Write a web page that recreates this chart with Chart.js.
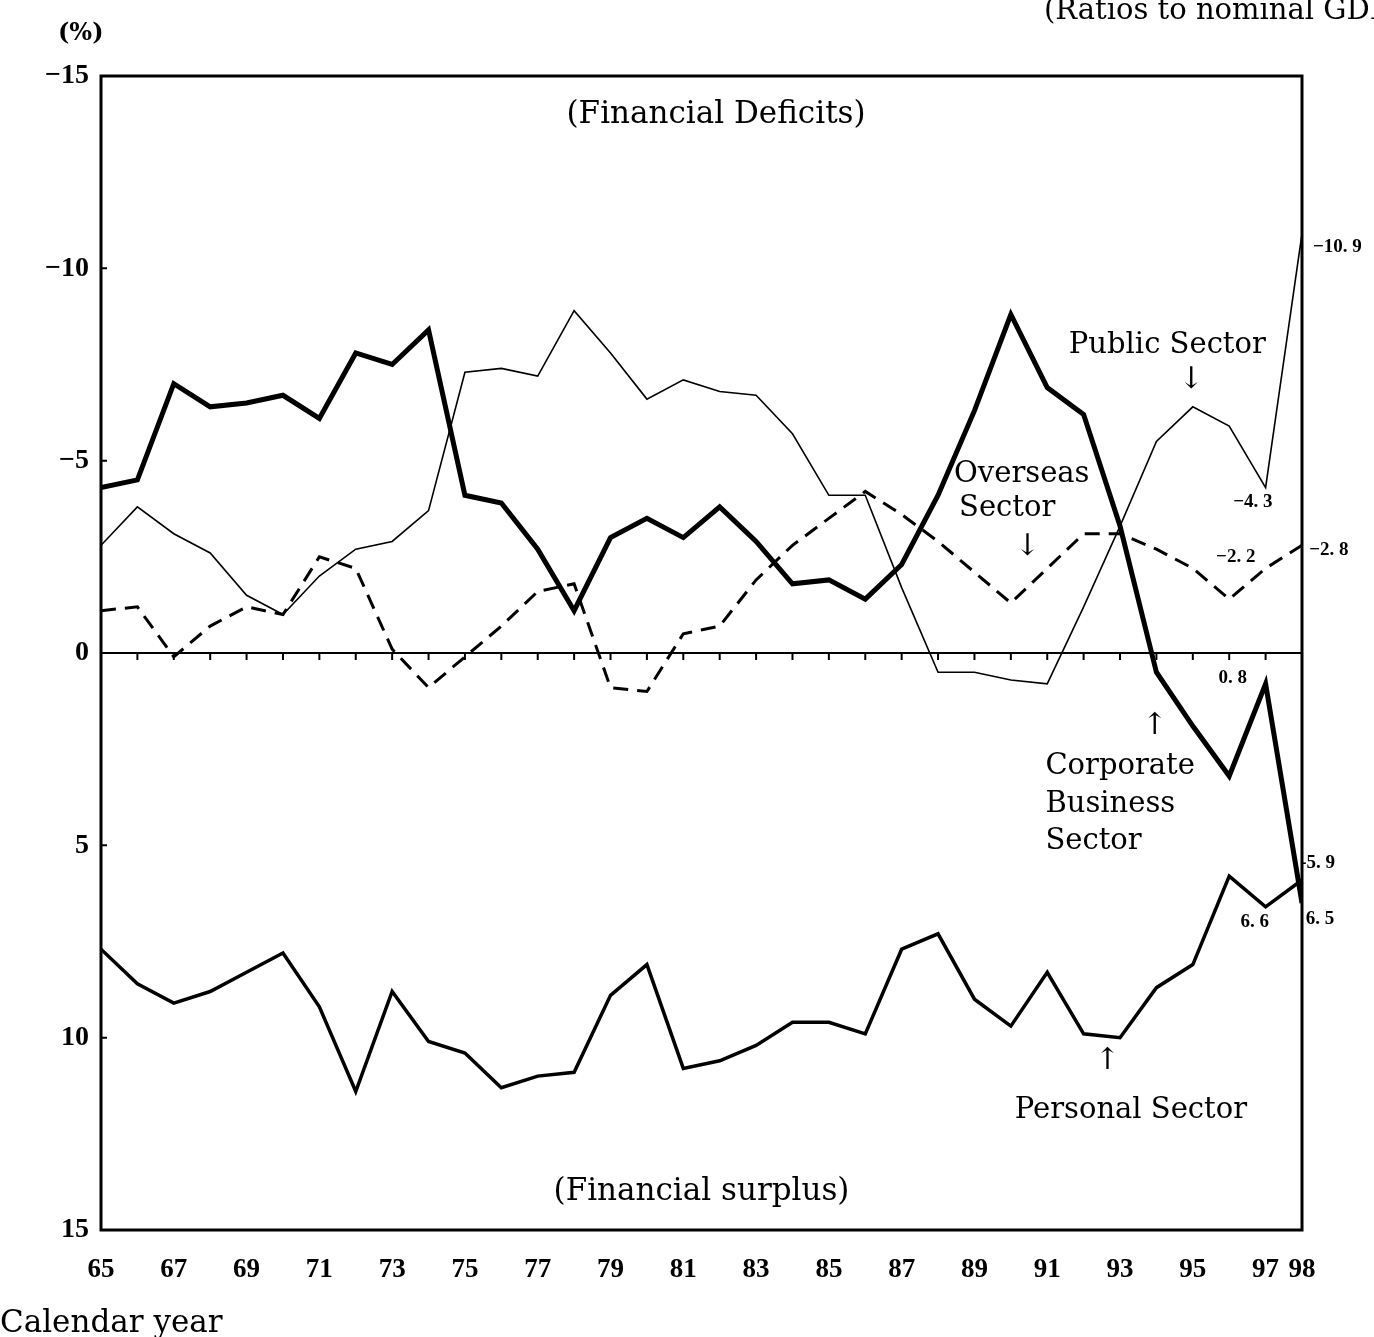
<!DOCTYPE html>
<html>
<head>
<meta charset="utf-8">
<script src="https://cdn.jsdelivr.net/npm/chart.js@4/dist/chart.umd.min.js"></script>
<style>
  html, body { margin: 0; padding: 0; background: #fff; }
  #wrap { width: 1374px; height: 1337px; position: relative; }
</style>
</head>
<body>
<div id="wrap"><canvas id="sectorChart" width="1374" height="1337"></canvas></div>
<script>
// calendar years (19xx)
const years = [65, 66, 67, 68, 69, 70, 71, 72, 73, 74, 75, 76, 77, 78, 79, 80, 81,
  82, 83, 84, 85, 86, 87, 88, 89, 90, 91, 92, 93, 94, 95, 96, 97, 98];
const yearTicks = [65, 67, 69, 71, 73, 75, 77, 79, 81, 83, 85, 87, 89, 91, 93, 95, 97, 98];
const valueTicks = [-15, -10, -5, 0, 5, 10, 15];

// ratios to nominal GDP, % (negative = financial deficit)
const corporate = [-4.3, -4.5, -7.0, -6.4, -6.5, -6.7, -6.1, -7.8, -7.5, -8.4,
  -4.1, -3.9, -2.7, -1.1, -3.0, -3.5, -3.0, -3.8, -2.9, -1.8,
  -1.9, -1.4, -2.3, -4.1, -6.3, -8.8, -6.9, -6.2, -3.3, 0.5,
  1.9, 3.2, 0.8, 6.5];
const publicSector = [-2.8, -3.8, -3.1, -2.6, -1.5, -1.0, -2.0, -2.7, -2.9, -3.7,
  -7.3, -7.4, -7.2, -8.9, -7.8, -6.6, -7.1, -6.8, -6.7, -5.7,
  -4.1, -4.1, -1.7, 0.5, 0.5, 0.7, 0.8, -1.2, -3.3, -5.5,
  -6.4, -5.9, -4.3, -10.9];
const overseas = [-1.1, -1.2, 0.1, -0.7, -1.2, -1.0, -2.5, -2.2, -0.1, 0.9,
  0.1, -0.7, -1.6, -1.8, 0.9, 1.0, -0.5, -0.7, -1.9, -2.8,
  -3.5, -4.2, -3.6, -2.9, -2.1, -1.3, -2.2, -3.1, -3.1, -2.7,
  -2.2, -1.4, -2.2, -2.8];
const personal = [7.7, 8.6, 9.1, 8.8, 8.3, 7.8, 9.2, 11.4, 8.8, 10.1,
  10.4, 11.3, 11.0, 10.9, 8.9, 8.1, 10.8, 10.6, 10.2, 9.6,
  9.6, 9.9, 7.7, 7.3, 9.0, 9.7, 8.3, 9.9, 10.0, 8.7,
  8.1, 5.8, 6.6, 5.9];

// text placed in data coordinates: [text, year, value, align, font]
const SERIF = '"DejaVu Serif", serif';
const BOLD_NUM = 'bold 19px "Liberation Serif", serif';
const LABEL = '29px ' + SERIF;
const ARROW = '30px ' + SERIF;
const notes = [
  ['(Financial Deficits)', 81.9, -14.0, 'center', '31px ' + SERIF],
  ['(Financial surplus)', 81.5, 14.0, 'center', '31px ' + SERIF],
  ['Public Sector', 94.3, -8.0, 'center', LABEL],
  ['↓', 94.95, -7.1, 'center', ARROW],
  ['Overseas', 90.3, -4.65, 'center', LABEL],
  ['Sector', 89.9, -3.75, 'center', LABEL],
  ['↓', 90.45, -2.75, 'center', ARROW],
  ['↑', 93.95, 1.9, 'center', ARROW],
  ['Corporate', 90.95, 2.95, 'left', LABEL],
  ['Business', 90.95, 3.93, 'left', LABEL],
  ['Sector', 90.95, 4.91, 'left', LABEL],
  ['↑', 92.65, 10.6, 'center', ARROW],
  ['Personal Sector', 93.3, 11.9, 'center', LABEL],
  ['−10. 9', 98.3, -10.55, 'left', BOLD_NUM],
  ['−4. 3', 96.65, -3.93, 'center', BOLD_NUM],
  ['−2. 2', 96.18, -2.5, 'center', BOLD_NUM],
  ['−2. 8', 98.2, -2.68, 'left', BOLD_NUM],
  ['0. 8', 96.1, 0.64, 'center', BOLD_NUM],
  ['-5. 9', 97.95, 5.47, 'left', BOLD_NUM],
  ['6. 6', 96.7, 7.0, 'center', BOLD_NUM],
  ['6. 5', 98.1, 6.93, 'left', BOLD_NUM],
];

const toPoints = (vals) => years.map((yr, i) => ({ x: yr, y: vals[i] }));

// frame, small tick marks and text
const decorations = {
  id: 'decorations',
  afterDatasetsDraw(chart) {
    const { ctx, chartArea: a, scales: { x, y } } = chart;
    ctx.save();
    ctx.strokeStyle = '#000';
    ctx.lineWidth = 3;
    ctx.strokeRect(a.left, a.top, a.right - a.left, a.bottom - a.top);

    // ticks hanging from the zero line
    const y0 = y.getPixelForValue(0);
    ctx.lineWidth = 2;
    ctx.beginPath();
    years.slice(1, -1).forEach((yr) => {
      const px = x.getPixelForValue(yr);
      ctx.moveTo(px, y0);
      ctx.lineTo(px, y0 + 7);
    });
    // inward ticks on the value axis
    valueTicks.slice(1, -1).forEach((v) => {
      const py = y.getPixelForValue(v);
      ctx.moveTo(a.left, py);
      ctx.lineTo(a.left + 6, py);
    });
    ctx.stroke();

    ctx.fillStyle = '#000';
    ctx.textBaseline = 'middle';
    notes.forEach(([text, yr, v, align, font]) => {
      ctx.font = font;
      ctx.textAlign = align;
      ctx.fillText(text, x.getPixelForValue(yr), y.getPixelForValue(v));
    });

    // page texts outside the plot
    ctx.textAlign = 'left';
    ctx.textBaseline = 'alphabetic';
    ctx.font = 'bold 24px ' + SERIF;
    ctx.fillText('(%)', 58, 40);
    ctx.font = '29px ' + SERIF;
    ctx.fillText('(Ratios to nominal GDP)', 1044, 19);
    ctx.font = '31px ' + SERIF;
    ctx.fillText('Calendar year', 0, 1332);
    ctx.restore();
  },
};

const myChart = new Chart('sectorChart', {
  type: 'line',
  data: {
    datasets: [
      { label: 'Corporate Business Sector', data: toPoints(corporate), borderColor: '#000', borderWidth: 5 },
      { label: 'Public Sector', data: toPoints(publicSector), borderColor: '#000', borderWidth: 1.6 },
      { label: 'Overseas Sector', data: toPoints(overseas), borderColor: '#000', borderWidth: 3, borderDash: [15, 9] },
      { label: 'Personal Sector', data: toPoints(personal), borderColor: '#000', borderWidth: 3.5 },
    ],
  },
  options: {
    responsive: false,
    animation: false,
    elements: { point: { radius: 0 }, line: { tension: 0, borderJoinStyle: 'miter' } },
    layout: { padding: { top: 76, right: 72, left: 0, bottom: 0 } },
    plugins: { legend: { display: false }, tooltip: { enabled: false } },
    scales: {
      x: {
        type: 'linear',
        min: 65,
        max: 98,
        afterFit: (s) => { s.height = 107; },
        afterBuildTicks: (s) => { s.ticks = yearTicks.map((v) => ({ value: v })); },
        grid: { display: false, drawTicks: false },
        border: { display: false },
        ticks: {
          autoSkip: false,
          maxRotation: 0,
          padding: 24,
          color: '#000',
          font: { family: '"Liberation Serif", serif', size: 27, weight: 'bold' },
          callback: (v) => String(v),
        },
      },
      y: {
        reverse: true,
        min: -15,
        max: 15,
        afterFit: (s) => { s.width = 101; },
        afterBuildTicks: (s) => { s.ticks = valueTicks.map((v) => ({ value: v })); },
        grid: {
          drawTicks: false,
          color: (c) => (c.tick && c.tick.value === 0 ? '#000' : 'rgba(0,0,0,0)'),
          lineWidth: 2,
        },
        border: { display: false },
        ticks: {
          padding: 12,
          color: '#000',
          font: { family: '"Liberation Serif", serif', size: 28, weight: 'bold' },
          callback: (v) => (v < 0 ? '−' + Math.abs(v) : String(v)),
        },
      },
    },
  },
  plugins: [decorations],
});
</script>
</body>
</html>
